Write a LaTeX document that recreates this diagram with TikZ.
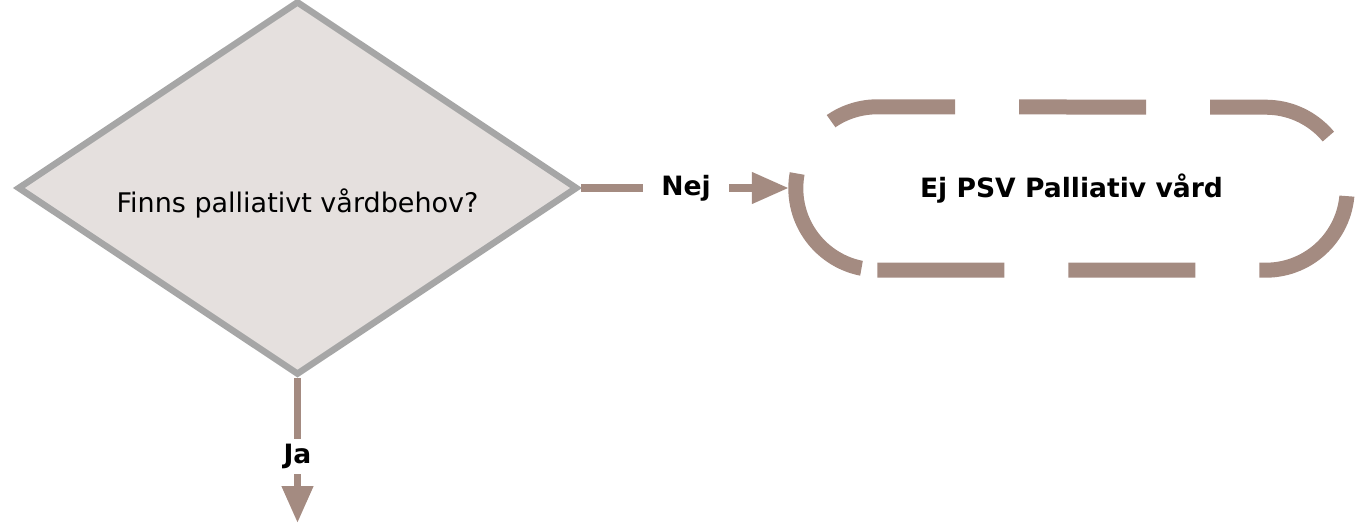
\documentclass[tikz,border=0pt]{standalone}
\usepackage{fontspec}
\setmainfont{DejaVu Sans}
\usetikzlibrary{positioning,shapes.geometric,arrows.meta}

\definecolor{linegray}{HTML}{A6A6A6}
\definecolor{boxfill}{HTML}{E5E0DE}
\definecolor{flowbrown}{HTML}{A48B81}

\begin{document}
\begin{tikzpicture}[x=1pt,y=-1pt,
	question/.style={diamond,draw=linegray,fill=boxfill,line width=6.5pt,inner sep=0pt,
		minimum width=560pt,minimum height=374pt,shape aspect=1.5},
	qtext/.style={font=\fontsize{27}{32}\selectfont,anchor=base,inner sep=0pt},
	endbox/.style={rectangle,inner sep=0pt,minimum width=551pt,minimum height=163pt,
		font=\bfseries\fontsize{26.6}{32}\selectfont},
	outline/.style={draw=flowbrown,line width=15pt,dash pattern=on 127pt off 64pt},
	flow/.style={draw=flowbrown,line width=7.5pt,-{Triangle[length=37pt,width=30pt]}},
	answer/.style={fill=white,inner xsep=18pt,inner ysep=5pt,font=\bfseries\fontsize{26.6}{32}\selectfont}]

\useasboundingbox (0,0) rectangle (1355,523);

\node[question](q) at (297.5,188) {};
\node[qtext](qt) at (297.5,212) {Finns palliativt vårdbehov?};
\node[endbox](ej) at (1071.5,188.5) {Ej PSV Palliativ vård};
\coordinate(down) at (297.5,523);

% dashed end box
\draw[outline]([xshift=81.5pt]ej.south west)--([xshift=-81.5pt]ej.south east)
	arc[start angle=-90,end angle=90,radius=81.5pt]
	--([xshift=81.5pt]ej.north west)
	arc[start angle=90,end angle=270,radius=81.5pt];

\draw[flow,shorten >=7pt](q.east)--node[answer,pos=0.49]{Nej}(q.east -| ej.west);
\draw[flow](q.south)--node[answer,pos=0.54]{Ja}(down);
\end{tikzpicture}
\end{document}
